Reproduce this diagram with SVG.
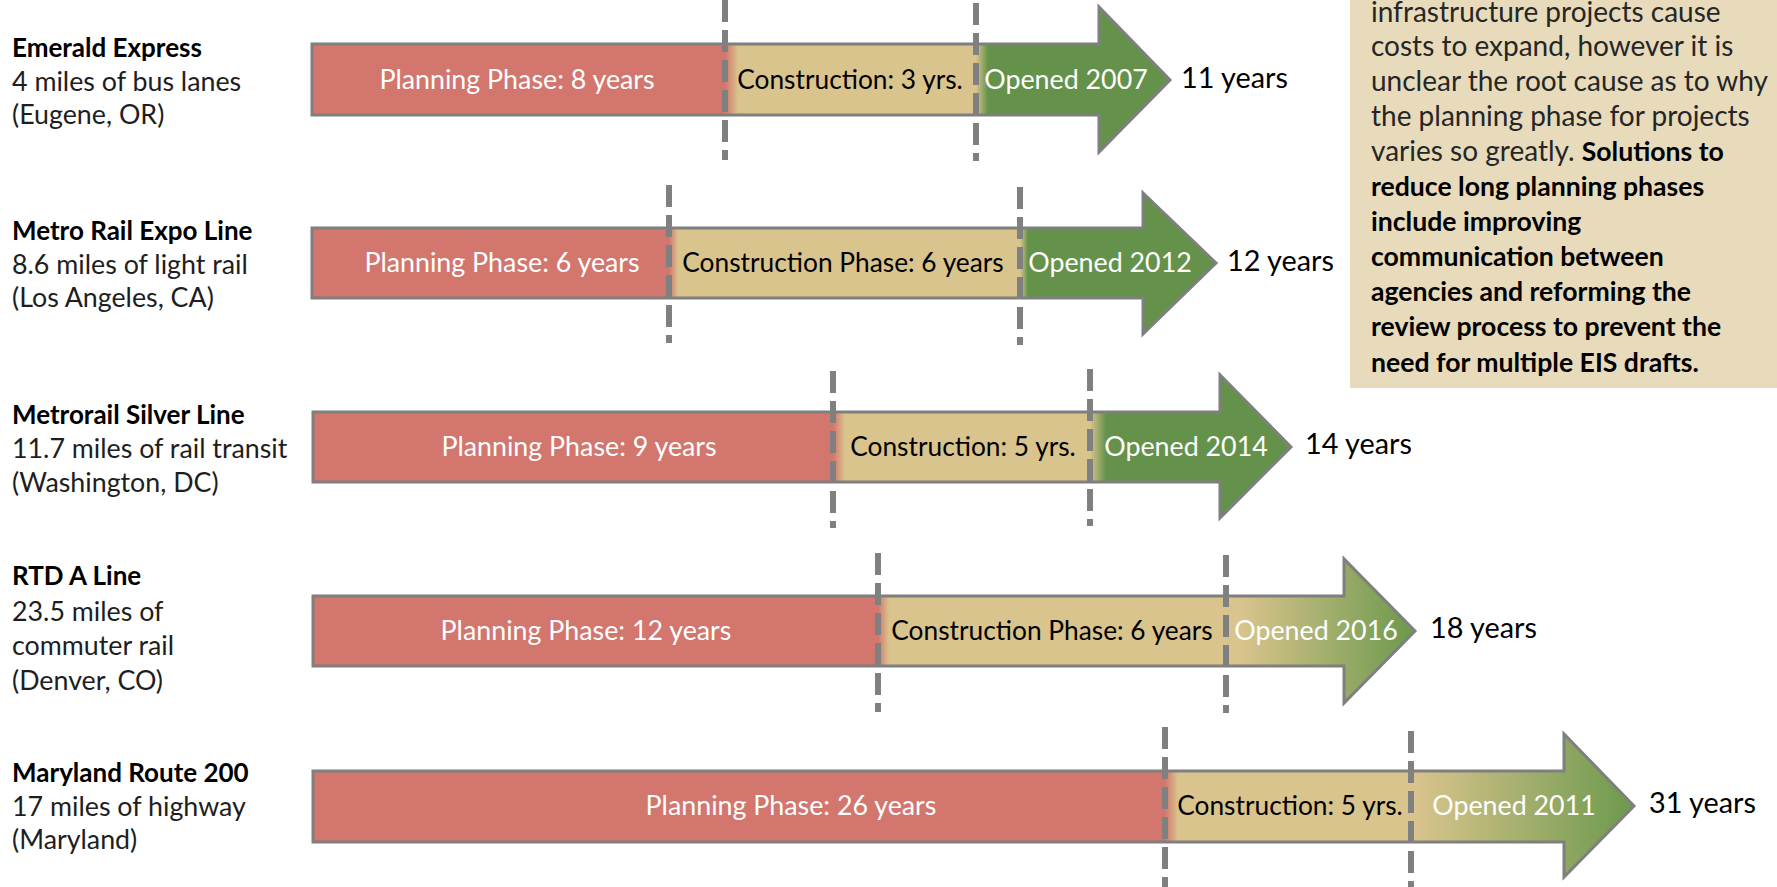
<svg xmlns="http://www.w3.org/2000/svg" width="1777" height="887" viewBox="0 0 1777 887">
<style>
text{font-family:Lato,"Liberation Sans",sans-serif;font-size:26px;}
.name{font-weight:bold;fill:#000;font-size:26px;}
.desc{fill:#1e1e1e;font-size:26.8px;}
.bar{stroke:#7f7f7f;stroke-width:3;stroke-linejoin:miter;}
.w{fill:#fff;font-size:26.8px;text-anchor:middle;}
.b{fill:#000;font-size:26.3px;text-anchor:middle;}
.yrs{fill:#000;font-size:28.8px;}
.div{stroke:#808080;stroke-width:6;stroke-dasharray:22 8;fill:none;}
.note{font-size:28px;fill:#262626;}
.bold{font-weight:bold;fill:#000;font-size:26.6px;}
</style>
<defs>
<linearGradient id="g1" gradientUnits="userSpaceOnUse" x1="0" y1="0" x2="1777" y2="0">
<stop offset="0.408" stop-color="#D2766E"/><stop offset="0.4153" stop-color="#D9C48D"/>
<stop offset="0.5492" stop-color="#D9C48D"/><stop offset="0.556" stop-color="#64924A"/>
</linearGradient>
<linearGradient id="g2" gradientUnits="userSpaceOnUse" x1="0" y1="0" x2="1777" y2="0">
<stop offset="0.3765" stop-color="#D2766E"/><stop offset="0.3815" stop-color="#D9C48D"/>
<stop offset="0.574" stop-color="#D9C48D"/><stop offset="0.5785" stop-color="#64924A"/>
</linearGradient>
<linearGradient id="g3" gradientUnits="userSpaceOnUse" x1="0" y1="0" x2="1777" y2="0">
<stop offset="0.4688" stop-color="#D2766E"/><stop offset="0.4755" stop-color="#D9C48D"/>
<stop offset="0.6134" stop-color="#D9C48D"/><stop offset="0.6224" stop-color="#64924A"/>
</linearGradient>
<linearGradient id="g4" gradientUnits="userSpaceOnUse" x1="0" y1="0" x2="1777" y2="0">
<stop offset="0.4941" stop-color="#D2766E"/><stop offset="0.5003" stop-color="#D9C48D"/>
<stop offset="0.6978" stop-color="#D9C48D"/><stop offset="0.7935" stop-color="#6E9A4E"/>
</linearGradient>
<linearGradient id="g5" gradientUnits="userSpaceOnUse" x1="0" y1="0" x2="1777" y2="0">
<stop offset="0.6556" stop-color="#D2766E"/><stop offset="0.6629" stop-color="#D9C48D"/>
<stop offset="0.7963" stop-color="#D9C48D"/><stop offset="0.9173" stop-color="#6E9A4E"/>
</linearGradient>
</defs>
<rect width="1777" height="887" fill="#fff"/>

<g id="note">
<rect x="1350" y="-5" width="430" height="393" fill="#E7DBBB"/>
<text class="note" x="1371" y="22">infrastructure projects cause</text>
<text class="note" x="1371" y="56">costs to expand, however it is</text>
<text class="note" x="1371" y="91">unclear the root cause as to why</text>
<text class="note" x="1371" y="126">the planning phase for projects</text>
<text class="note" x="1371" y="161">varies so greatly. <tspan class="bold">Solutions to</tspan></text>
<text class="note bold" x="1371" y="196">reduce long planning phases</text>
<text class="note bold" x="1371" y="231">include improving</text>
<text class="note bold" x="1371" y="266">communication between</text>
<text class="note bold" x="1371" y="301">agencies and reforming the</text>
<text class="note bold" x="1371" y="336">review process to prevent the</text>
<text class="note bold" x="1371" y="372">need for multiple EIS drafts.</text>
</g>

<g id="row-emerald">
<text class="name" x="12" y="57">Emerald Express</text>
<text class="desc" x="12" y="91">4 miles of bus lanes</text>
<text class="desc" x="12" y="124">(Eugene, OR)</text>
<polygon class="bar" fill="url(#g1)" points="312,44 1099,44 1099,7 1170,80 1099,152 1099,115 312,115"/>
<text class="w" x="517" y="89">Planning Phase: 8 years</text>
<text class="b" x="850" y="89">Construction: 3 yrs.</text>
<text class="w" x="1066" y="89">Opened 2007</text>
<text class="yrs" x="1181" y="88">11 years</text>
</g>

<g id="row-expo">
<text class="name" x="12" y="240">Metro Rail Expo Line</text>
<text class="desc" x="12" y="274">8.6 miles of light rail</text>
<text class="desc" x="12" y="307">(Los Angeles, CA)</text>
<polygon class="bar" fill="url(#g2)" points="312,228 1143,228 1143,193 1216,263 1143,334 1143,298 312,298"/>
<text class="w" x="502" y="272">Planning Phase: 6 years</text>
<text class="b" x="843" y="272">Construction Phase: 6 years</text>
<text class="w" x="1110" y="272">Opened 2012</text>
<text class="yrs" x="1227" y="271">12 years</text>
</g>

<g id="row-silver">
<text class="name" x="12" y="424">Metrorail Silver Line</text>
<text class="desc" x="12" y="458">11.7 miles of rail transit</text>
<text class="desc" x="12" y="492">(Washington, DC)</text>
<polygon class="bar" fill="url(#g3)" points="313,412 1220,412 1220,375 1291,447 1220,518 1220,482 313,482"/>
<text class="w" x="579" y="456">Planning Phase: 9 years</text>
<text class="b" x="963" y="456">Construction: 5 yrs.</text>
<text class="w" x="1186" y="456">Opened 2014</text>
<text class="yrs" x="1305" y="454">14 years</text>
</g>

<g id="row-rtd">
<text class="name" x="12" y="585">RTD A Line</text>
<text class="desc" x="12" y="621">23.5 miles of</text>
<text class="desc" x="12" y="655">commuter rail</text>
<text class="desc" x="12" y="690">(Denver, CO)</text>
<polygon class="bar" fill="url(#g4)" points="313,596 1344,596 1344,559 1415,631 1344,703 1344,666 313,666"/>
<text class="w" x="586" y="640">Planning Phase: 12 years</text>
<text class="b" x="1052" y="640">Construction Phase: 6 years</text>
<text class="w" x="1316" y="640">Opened 2016</text>
<text class="yrs" x="1430" y="638">18 years</text>
</g>

<g id="row-maryland">
<text class="name" x="12" y="782">Maryland Route 200</text>
<text class="desc" x="12" y="816">17 miles of highway</text>
<text class="desc" x="12" y="849">(Maryland)</text>
<polygon class="bar" fill="url(#g5)" points="313,771 1564,771 1564,734 1634,806 1564,877 1564,842 313,842"/>
<text class="w" x="791" y="815">Planning Phase: 26 years</text>
<text class="b" x="1290" y="815">Construction: 5 yrs.</text>
<text class="w" x="1514" y="815">Opened 2011</text>
<text class="yrs" x="1649" y="813">31 years</text>
</g>

<g id="dividers">
<line class="div" x1="725" y1="0" x2="725" y2="160"/>
<line class="div" x1="976" y1="3" x2="976" y2="161"/>
<line class="div" x1="669" y1="185" x2="669" y2="343"/>
<line class="div" x1="1020" y1="187" x2="1020" y2="345"/>
<line class="div" x1="833" y1="371" x2="833" y2="528"/>
<line class="div" x1="1090" y1="369" x2="1090" y2="526"/>
<line class="div" x1="878" y1="553" x2="878" y2="712"/>
<line class="div" x1="1226" y1="555" x2="1226" y2="713"/>
<line class="div" x1="1165" y1="727" x2="1165" y2="887"/>
<line class="div" x1="1411" y1="731" x2="1411" y2="887"/>
</g>
</svg>
